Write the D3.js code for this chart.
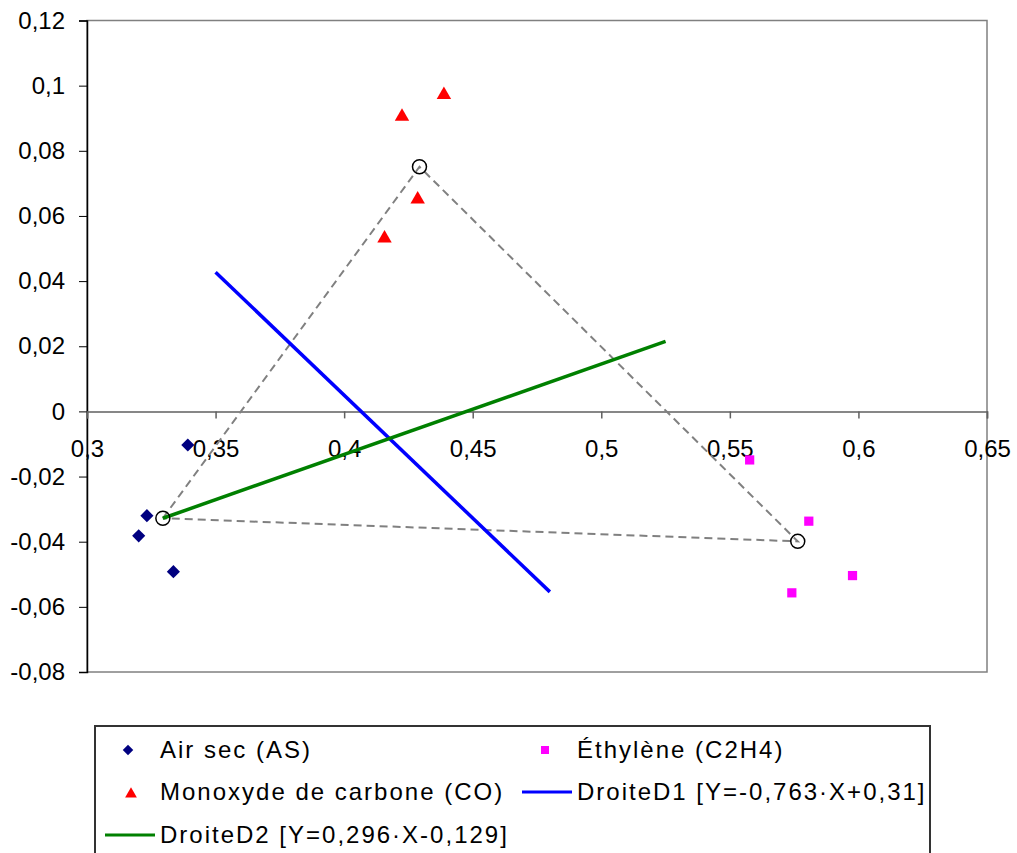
<!DOCTYPE html>
<html>
<head>
<meta charset="utf-8">
<script src="https://d3js.org/d3.v7.min.js"></script>
<style>
  body { margin: 0; background: #fff; }
  text { font-family: "Liberation Sans", Arial, sans-serif; }
</style>
</head>
<body>
<div id="chart"></div>
<script>
// Air sec (AS) points
var airSecX = [0.3392, 0.3233, 0.3201, 0.3336];
var airSecY = [-0.0103, -0.0320, -0.0382, -0.0492];

// Monoxyde de carbone (CO) points
var coX = [0.4388, 0.4225, 0.4286, 0.4157];
var coY = [0.0972, 0.0905, 0.0651, 0.0531];

// Ethylene (C2H4) points
var ethX = [0.5577, 0.5807, 0.5977, 0.5741];
var ethY = [-0.0149, -0.0337, -0.0504, -0.0557];

// centre of each group (the open circles + dashed triangle)
var centreX = [0.3295, 0.4293, 0.5764];
var centreY = [-0.0328, 0.0751, -0.0399];

// the two lines, start and end points
var d1X = [0.35, 0.48];
var d1Y = [0.0427, -0.0554];
var d2X = [0.3295, 0.525];
var d2Y = [-0.0328, 0.0215];

var xTicks = [0.3, 0.35, 0.4, 0.45, 0.5, 0.55, 0.6, 0.65];
var yTicks = [-0.08, -0.06, -0.04, -0.02, 0, 0.02, 0.04, 0.06, 0.08, 0.1, 0.12];

var legendLabels = ["Air sec (AS)", "Éthylène (C2H4)", "Monoxyde de carbone (CO)",
  "DroiteD1 [Y=-0,763·X+0,31]", "DroiteD2 [Y=0,296·X-0,129]"];

var svgWidth = 1017;
var svgHeight = 853;

var svg = d3.select("#chart")
  .append("svg")
  .attr("width", svgWidth)
  .attr("height", svgHeight);

var xScale = d3.scaleLinear().domain([0.3, 0.65]).range([87, 987]);
var yScale = d3.scaleLinear().domain([-0.08, 0.12]).range([672, 20.5]);

// french style decimals
function fmt(v) {
  return String(+v.toFixed(2)).replace(".", ",");
}

function zip(xs, ys) {
  return xs.map((x, i) => ({x: x, y: ys[i]}));
}

// plot frame, grey on top / right / bottom
svg.append("rect")
  .attr("x", xScale(0.3))
  .attr("y", yScale(0.12))
  .attr("width", xScale(0.65) - xScale(0.3))
  .attr("height", yScale(-0.08) - yScale(0.12))
  .attr("fill", "none")
  .attr("stroke", "#808080")
  .attr("stroke-width", 1.5);

// y axis on the left
var yAxis = svg.append("g")
  .attr("transform", `translate(${xScale(0.3)},0)`)
  .call(d3.axisLeft(yScale).tickValues(yTicks).tickSize(8).tickPadding(14).tickFormat(fmt));

yAxis.select(".domain").attr("stroke", "#000").attr("stroke-width", 1.5);
yAxis.selectAll(".tick line").attr("stroke", "#000");
yAxis.selectAll("text")
  .attr("fill", "#000")
  .style("font-size", "24px")
  .style("font-family", "'Liberation Sans', Arial, sans-serif");

// x axis sits at y = 0
var xAxis = svg.append("g")
  .attr("transform", `translate(0,${yScale(0)})`)
  .call(d3.axisBottom(xScale).tickValues(xTicks).tickSize(7).tickPadding(22).tickFormat(fmt));

xAxis.select(".domain").attr("stroke", "#606060").attr("stroke-width", 1.5);
xAxis.selectAll(".tick line").attr("stroke", "#606060").attr("stroke-width", 1.5);
xAxis.selectAll("text")
  .attr("fill", "#000")
  .style("font-size", "24px")
  .style("font-family", "'Liberation Sans', Arial, sans-serif");

var line = d3.line().x(d => xScale(d.x)).y(d => yScale(d.y));

// dashed triangle between the centres
var centres = zip(centreX, centreY);
svg.append("path")
  .datum(centres.concat([centres[0]]))
  .attr("d", line)
  .attr("fill", "none")
  .attr("stroke", "#808080")
  .attr("stroke-width", 2)
  .attr("stroke-dasharray", "8,5");

// DroiteD1 and DroiteD2
svg.append("path")
  .datum(zip(d1X, d1Y))
  .attr("d", line)
  .attr("fill", "none")
  .attr("stroke", "#0000ff")
  .attr("stroke-width", 3.5);

svg.append("path")
  .datum(zip(d2X, d2Y))
  .attr("d", line)
  .attr("fill", "none")
  .attr("stroke", "#008000")
  .attr("stroke-width", 3.5);

// markers
var diamond = d3.symbol().type(d3.symbolDiamond2).size(110);
var triangle = d3.symbol().type(d3.symbolTriangle).size(90);
var square = d3.symbol().type(d3.symbolSquare).size(85);

svg.selectAll(".as")
  .data(zip(airSecX, airSecY))
  .enter()
  .append("path")
  .attr("class", "as")
  .attr("transform", d => `translate(${xScale(d.x)},${yScale(d.y)})`)
  .attr("d", diamond)
  .attr("fill", "#000080");

svg.selectAll(".co")
  .data(zip(coX, coY))
  .enter()
  .append("path")
  .attr("class", "co")
  .attr("transform", d => `translate(${xScale(d.x)},${yScale(d.y)})`)
  .attr("d", triangle)
  .attr("fill", "#ff0000");

svg.selectAll(".eth")
  .data(zip(ethX, ethY))
  .enter()
  .append("path")
  .attr("class", "eth")
  .attr("transform", d => `translate(${xScale(d.x)},${yScale(d.y)})`)
  .attr("d", square)
  .attr("fill", "#ff00ff");

// open circles at the centres
svg.selectAll(".centre")
  .data(centres)
  .enter()
  .append("circle")
  .attr("class", "centre")
  .attr("cx", d => xScale(d.x))
  .attr("cy", d => yScale(d.y))
  .attr("r", 7)
  .attr("fill", "none")
  .attr("stroke", "#000")
  .attr("stroke-width", 1.5);

// legend box, runs off the bottom of the picture
var legend = svg.append("g");

legend.append("rect")
  .attr("x", 95)
  .attr("y", 726)
  .attr("width", 835)
  .attr("height", 160)
  .attr("fill", "#fff")
  .attr("stroke", "#333")
  .attr("stroke-width", 2);

var rowY = [750, 792, 835];

function legendText(x, y, label) {
  legend.append("text")
    .attr("x", x)
    .attr("y", y)
    .attr("dy", "0.35em")
    .style("font-size", "24px")
    .style("letter-spacing", "2px")
    .attr("fill", "#000")
    .text(label);
}

legend.append("path")
  .attr("transform", `translate(128,${rowY[0]})`)
  .attr("d", d3.symbol().type(d3.symbolDiamond2).size(70))
  .attr("fill", "#000080");
legendText(160, rowY[0], legendLabels[0]);

legend.append("path")
  .attr("transform", `translate(545,${rowY[0]})`)
  .attr("d", d3.symbol().type(d3.symbolSquare).size(64))
  .attr("fill", "#ff00ff");
legendText(577, rowY[0], legendLabels[1]);

legend.append("path")
  .attr("transform", `translate(131,${rowY[1] + 2})`)
  .attr("d", d3.symbol().type(d3.symbolTriangle).size(60))
  .attr("fill", "#ff0000");
legendText(160, rowY[1], legendLabels[2]);

legend.append("line")
  .attr("x1", 522).attr("x2", 572)
  .attr("y1", rowY[1]).attr("y2", rowY[1])
  .attr("stroke", "#0000ff")
  .attr("stroke-width", 3);
legendText(577, rowY[1], legendLabels[3]);

legend.append("line")
  .attr("x1", 105).attr("x2", 155)
  .attr("y1", rowY[2]).attr("y2", rowY[2])
  .attr("stroke", "#008000")
  .attr("stroke-width", 3);
legendText(160, rowY[2], legendLabels[4]);
</script>
</body>
</html>
